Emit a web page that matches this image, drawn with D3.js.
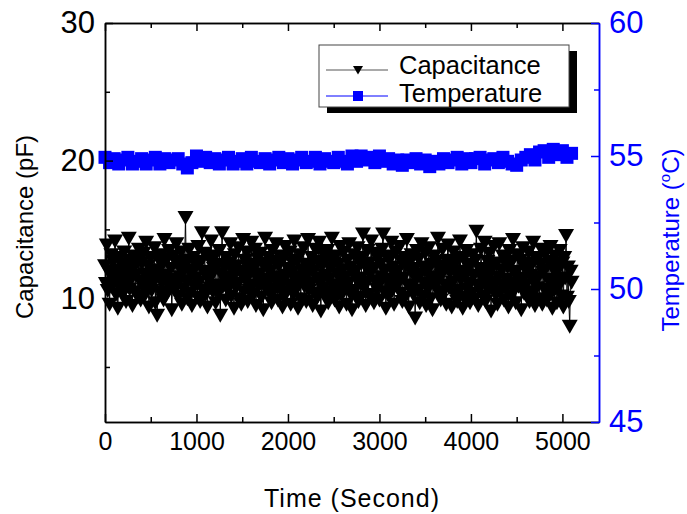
<!DOCTYPE html>
<html>
<head>
<meta charset="utf-8">
<title>Capacitance and Temperature</title>
<style>
  body { margin: 0; background: #fff; }
  text { font-family: "Liberation Sans", Arial, sans-serif; }
</style>
</head>
<body>
<svg id="chart" width="687" height="514"></svg>
<script src="https://d3js.org/d3.v7.min.js"></script>
<script>
// capacitance (pF), one reading every 10 s starting at 0 s
const capStep = 10
const capacitance = [
  12.4, 11.1, 13.9, 10.6, 12.0, 9.6, 11.8, 13.2, 10.9, 12.7, 11.4, 14.2, 10.3, 12.1, 9.3, 11.6, 13.0, 10.8, 12.5, 11.2,
  10.4, 13.4, 11.9, 9.8, 12.3, 11.0, 14.4, 10.7, 12.8, 11.5, 9.5, 12.2, 13.1, 10.5, 11.7, 12.9, 10.1, 13.6, 11.3, 9.9,
  12.6, 11.0, 13.3, 10.2, 11.8, 14.1, 10.9, 12.4, 9.4, 11.5, 13.0, 10.6, 12.1, 11.3, 13.7, 9.7, 12.0, 8.8, 11.6, 12.8,
  10.5, 13.2, 11.2, 12.5, 9.9, 14.3, 11.7, 10.3, 12.9, 11.0, 13.5, 10.8, 12.2, 9.2, 11.4, 13.1, 10.6, 12.7, 14.0, 11.1,
  10.2, 12.3, 11.6, 13.4, 9.6, 11.9, 10.7, 12.6, 15.9, 11.3, 10.0, 12.8, 13.6, 10.4, 11.8, 9.5, 12.1, 13.0, 10.9, 11.5,
  12.4, 10.1, 13.8, 11.2, 9.8, 12.7, 14.8, 10.6, 11.9, 13.3, 10.3, 12.0, 9.4, 11.4, 12.9, 10.8, 14.2, 11.7, 10.5, 12.2,
  13.1, 9.7, 11.0, 12.5, 10.4, 13.5, 8.8, 11.8, 14.8, 10.9, 12.3, 11.5, 9.9, 13.0, 10.7, 12.6, 11.2, 14.0, 10.2, 12.1,
  11.6, 9.3, 13.2, 10.8, 12.4, 11.1, 13.7, 10.0, 12.0, 9.6, 11.7, 14.3, 10.5, 12.8, 11.3, 13.4, 9.8, 11.9, 10.6, 12.5,
  14.1, 11.0, 10.3, 12.2, 13.6, 9.5, 11.5, 12.9, 10.9, 11.8, 13.3, 10.1, 12.6, 9.2, 11.4, 14.4, 10.7, 12.3, 11.1, 13.0,
  10.4, 12.0, 9.7, 13.5, 11.6, 10.6, 12.7, 14.0, 11.2, 9.9, 12.4, 10.8, 13.1, 11.5, 9.4, 12.9, 10.2, 13.8, 11.7, 10.5,
  12.2, 11.0, 13.4, 9.6, 11.9, 12.6, 10.3, 14.2, 11.3, 10.7, 12.8, 9.3, 11.6, 13.2, 10.0, 12.1, 11.4, 13.7, 10.9, 12.5,
  9.8, 11.8, 14.3, 10.6, 12.3, 11.1, 13.0, 9.5, 12.0, 10.4, 13.6, 11.5, 10.1, 12.7, 14.1, 11.2, 9.1, 12.4, 10.8, 13.3,
  11.7, 10.2, 12.9, 13.5, 9.7, 11.4, 12.2, 10.5, 14.4, 11.0, 12.6, 9.9, 13.1, 10.7, 11.8, 12.5, 9.4, 13.8, 11.3, 10.3,
  12.1, 13.4, 10.9, 11.6, 9.6, 12.8, 11.1, 14.0, 10.4, 12.3, 9.2, 11.9, 13.2, 10.6, 12.0, 11.4, 13.7, 9.8, 12.7, 10.1,
  11.5, 13.0, 14.7, 10.8, 12.4, 9.5, 11.2, 13.5, 10.3, 12.6, 11.8, 14.2, 10.0, 12.2, 9.7, 11.3, 13.3, 10.7, 12.9, 11.0,
  9.9, 12.5, 11.6, 13.6, 14.7, 10.5, 12.1, 9.3, 11.4, 13.1, 10.2, 12.8, 11.1, 14.1, 10.6, 12.3, 9.6, 11.7, 13.4, 10.9,
  12.0, 11.3, 13.8, 10.4, 12.7, 9.8, 11.5, 13.0, 10.1, 12.4, 14.3, 11.0, 9.4, 12.6, 10.8, 13.2, 11.9, 10.3, 12.2, 8.6,
  11.4, 13.5, 10.6, 12.9, 9.7, 11.8, 14.0, 10.2, 12.3, 11.1, 13.3, 9.5, 12.0, 10.7, 13.7, 11.6, 10.0, 12.5, 9.2, 11.3,
  13.1, 10.9, 12.7, 11.5, 14.4, 10.4, 12.1, 9.9, 11.7, 13.6, 10.5, 12.4, 11.0, 9.6, 12.8, 13.9, 10.8, 11.9, 12.2, 9.4,
  11.2, 13.4, 10.3, 12.6, 11.8, 9.8, 13.0, 10.6, 14.2, 11.4, 12.0, 9.3, 12.9, 10.1, 11.6, 13.5, 10.7, 12.3, 11.1, 9.7,
  12.5, 10.4, 13.2, 11.7, 10.0, 12.8, 14.9, 11.0, 9.5, 12.2, 10.9, 13.6, 11.5, 10.2, 12.0, 14.1, 9.8, 11.3, 12.7, 10.6,
  13.3, 11.9, 9.1, 12.4, 10.8, 13.8, 11.2, 10.3, 12.6, 9.6, 11.6, 14.0, 10.5, 12.1, 11.0, 13.1, 9.9, 12.9, 10.7, 11.4,
  12.3, 9.4, 13.5, 11.1, 10.2, 12.7, 14.3, 10.6, 11.8, 9.7, 12.0, 13.2, 10.9, 11.5, 12.8, 9.2, 11.3, 13.7, 10.4, 12.2,
  11.0, 12.6, 10.1, 13.4, 9.8, 11.7, 12.4, 10.5, 14.1, 11.2, 9.5, 12.9, 10.8, 13.0, 11.6, 10.0, 12.5, 13.6, 9.6, 11.9,
  10.7, 12.1, 13.3, 9.9, 11.4, 12.7, 10.3, 13.8, 11.1, 9.3, 12.4, 10.6, 13.1, 11.8, 9.7, 12.2, 10.9, 13.5, 11.3, 10.2,
  12.6, 9.4, 13.0, 11.5, 14.6, 10.1, 12.3, 9.8, 8.0, 12.0, 11.2
]

// temperature (°C), one reading every 50 s starting at 0 s
const tempStep = 50
const temperature = [
  54.95, 54.75, 54.9, 54.7, 54.85, 54.95, 54.7, 54.8, 54.9, 54.7,
  54.85, 54.95, 54.7, 54.9, 54.75, 54.85, 54.9, 54.7, 54.55, 54.75,
  55.0, 54.8, 54.95, 54.75, 54.9, 54.7, 54.85, 54.95, 54.7, 54.8,
  54.9, 54.7, 54.95, 54.8, 54.75, 54.9, 54.7, 54.85, 54.95, 54.75,
  54.9, 54.7, 54.85, 54.95, 54.75, 54.8, 54.95, 54.7, 54.9, 54.8,
  54.75, 54.95, 54.8, 54.7, 55.0, 54.8, 55.0, 54.85, 54.95, 54.75,
  55.0, 54.8, 54.9, 54.7, 54.85, 54.65, 54.85, 54.75, 54.9, 54.7,
  54.85, 54.6, 54.8, 54.7, 54.9, 54.75, 54.85, 54.95, 54.7, 54.9,
  54.75, 54.9, 54.95, 54.7, 54.85, 54.9, 54.75, 54.95, 54.8, 54.7,
  54.65, 54.85, 54.95, 55.05, 54.85, 55.15, 55.2, 54.95, 55.25, 55.05,
  55.2, 54.95, 55.1
]

const xTicks = [0, 1000, 2000, 3000, 4000, 5000]
const xMinor = [500, 1500, 2500, 3500, 4500]
const capTicks = [10, 20, 30]
const capMinor = [5, 15, 25]
const tempTicks = [45, 50, 55, 60]
const tempMinor = [47.5, 52.5, 57.5]

const blue = "#0000ff"
const plotLeft = 105, plotRight = 599, plotTop = 23, plotBottom = 422

const svg = d3.select("#chart")

const x = d3.scaleLinear().domain([0, 5400]).range([plotLeft, plotRight])
const yCap = d3.scaleLinear().domain([1, 30]).range([plotBottom, plotTop])
const yTemp = d3.scaleLinear().domain([45, 60]).range([plotBottom, plotTop])

const capData = capacitance.map((v, i) => ({t: i * capStep, v}))
const tempData = temperature.map((v, i) => ({t: i * tempStep, v}))

// series
const tri = "M-8,-6H8L0,8Z"
svg.append("path")
    .datum(capData)
    .attr("fill", "none")
    .attr("stroke", "#000")
    .attr("stroke-width", 1)
    .attr("d", d3.line().x(d => x(d.t)).y(d => yCap(d.v)))
svg.append("g")
    .selectAll("path")
    .data(capData)
    .join("path")
    .attr("d", tri)
    .attr("fill", "#000")
    .attr("transform", d => `translate(${x(d.t)},${yCap(d.v)})`)

svg.append("path")
    .datum(tempData)
    .attr("fill", "none")
    .attr("stroke", blue)
    .attr("stroke-width", 1)
    .attr("d", d3.line().x(d => x(d.t)).y(d => yTemp(d.v)))
const sq = 13
svg.append("g")
    .selectAll("rect")
    .data(tempData)
    .join("rect")
    .attr("x", d => x(d.t) - sq / 2)
    .attr("y", d => yTemp(d.v) - sq / 2)
    .attr("width", sq)
    .attr("height", sq)
    .attr("fill", blue)

// axes
const styleAxis = (g, color, size) => {
    g.select(".domain").attr("stroke", color).attr("stroke-width", 1.5)
    g.selectAll(".tick line").attr("stroke", color).attr("stroke-width", 1.5)
    g.selectAll(".tick text")
        .attr("fill", color)
        .attr("font-size", size)
        .attr("font-family", "Liberation Sans, Arial, sans-serif")
}

// bottom
svg.append("g")
    .attr("transform", `translate(0,${plotBottom})`)
    .call(d3.axisBottom(x).tickValues(xTicks).tickSize(-8).tickSizeOuter(0).tickPadding(10).tickFormat(d3.format("d")))
    .call(g => styleAxis(g, "#000", 25))
svg.append("g")
    .attr("transform", `translate(0,${plotBottom})`)
    .call(d3.axisBottom(x).tickValues(xMinor).tickSize(-5).tickSizeOuter(0).tickFormat(""))
    .call(g => styleAxis(g, "#000", 25))

// top (mirror)
svg.append("g")
    .attr("transform", `translate(0,${plotTop})`)
    .call(d3.axisTop(x).tickValues(xTicks).tickSize(-8).tickSizeOuter(0).tickFormat(""))
    .call(g => styleAxis(g, "#000", 25))
svg.append("g")
    .attr("transform", `translate(0,${plotTop})`)
    .call(d3.axisTop(x).tickValues(xMinor).tickSize(-5).tickSizeOuter(0).tickFormat(""))
    .call(g => styleAxis(g, "#000", 25))

// left
svg.append("g")
    .attr("transform", `translate(${plotLeft},0)`)
    .call(d3.axisLeft(yCap).tickValues(capTicks).tickSize(-8).tickSizeOuter(0).tickPadding(10))
    .call(g => styleAxis(g, "#000", 31))
svg.append("g")
    .attr("transform", `translate(${plotLeft},0)`)
    .call(d3.axisLeft(yCap).tickValues(capMinor).tickSize(-5).tickSizeOuter(0).tickFormat(""))
    .call(g => styleAxis(g, "#000", 31))

// right
svg.append("g")
    .attr("transform", `translate(${plotRight},0)`)
    .call(d3.axisRight(yTemp).tickValues(tempTicks).tickSize(-8).tickSizeOuter(0).tickPadding(10))
    .call(g => styleAxis(g, blue, 31))
svg.append("g")
    .attr("transform", `translate(${plotRight},0)`)
    .call(d3.axisRight(yTemp).tickValues(tempMinor).tickSize(-5).tickSizeOuter(0).tickFormat(""))
    .call(g => styleAxis(g, blue, 31))

// axis titles
svg.append("text")
    .attr("x", 352).attr("y", 507)
    .attr("text-anchor", "middle")
    .attr("font-size", 25)
    .attr("letter-spacing", 1)
    .text("Time (Second)")

svg.append("text")
    .attr("transform", "translate(33,227) rotate(-90)")
    .attr("text-anchor", "middle")
    .attr("font-size", 24)
    .text("Capacitance (pF)")

const tTitle = svg.append("text")
    .attr("transform", "translate(679,240) rotate(-90)")
    .attr("text-anchor", "middle")
    .attr("font-size", 24)
    .attr("fill", blue)
tTitle.append("tspan").text("Temperature (")
tTitle.append("tspan").attr("font-size", 15).attr("dy", -9).text("o")
tTitle.append("tspan").attr("dy", 9).text("C)")

// legend
const legend = svg.append("g")
legend.append("rect")
    .attr("x", 327).attr("y", 51).attr("width", 250).attr("height", 62)
    .attr("fill", "#000")
legend.append("rect")
    .attr("x", 319).attr("y", 45).attr("width", 250).attr("height", 62)
    .attr("fill", "#fff").attr("stroke", "#444").attr("stroke-width", 1)

const legendItems = [
    {label: "Capacitance", color: "#555", fill: "#000", kind: "tri", y: 70, base: 74},
    {label: "Temperature", color: blue, fill: blue, kind: "sq", y: 96, base: 102}
]
legendItems.forEach(item => {
    legend.append("line")
        .attr("x1", 326).attr("x2", 388)
        .attr("y1", item.y).attr("y2", item.y)
        .attr("stroke", item.color).attr("stroke-width", 1)
    if (item.kind === "tri") {
        legend.append("path")
            .attr("d", "M-5,-4H5L0,4.5Z")
            .attr("transform", `translate(358,${item.y})`)
            .attr("fill", item.fill)
    } else {
        legend.append("rect")
            .attr("x", 353).attr("y", item.y - 5)
            .attr("width", 10).attr("height", 10)
            .attr("fill", item.fill)
    }
    legend.append("text")
        .attr("x", 399).attr("y", item.base)
        .attr("font-size", 25.5)
        .attr("fill", "#000")
        .text(item.label)
})
</script>
</body>
</html>
